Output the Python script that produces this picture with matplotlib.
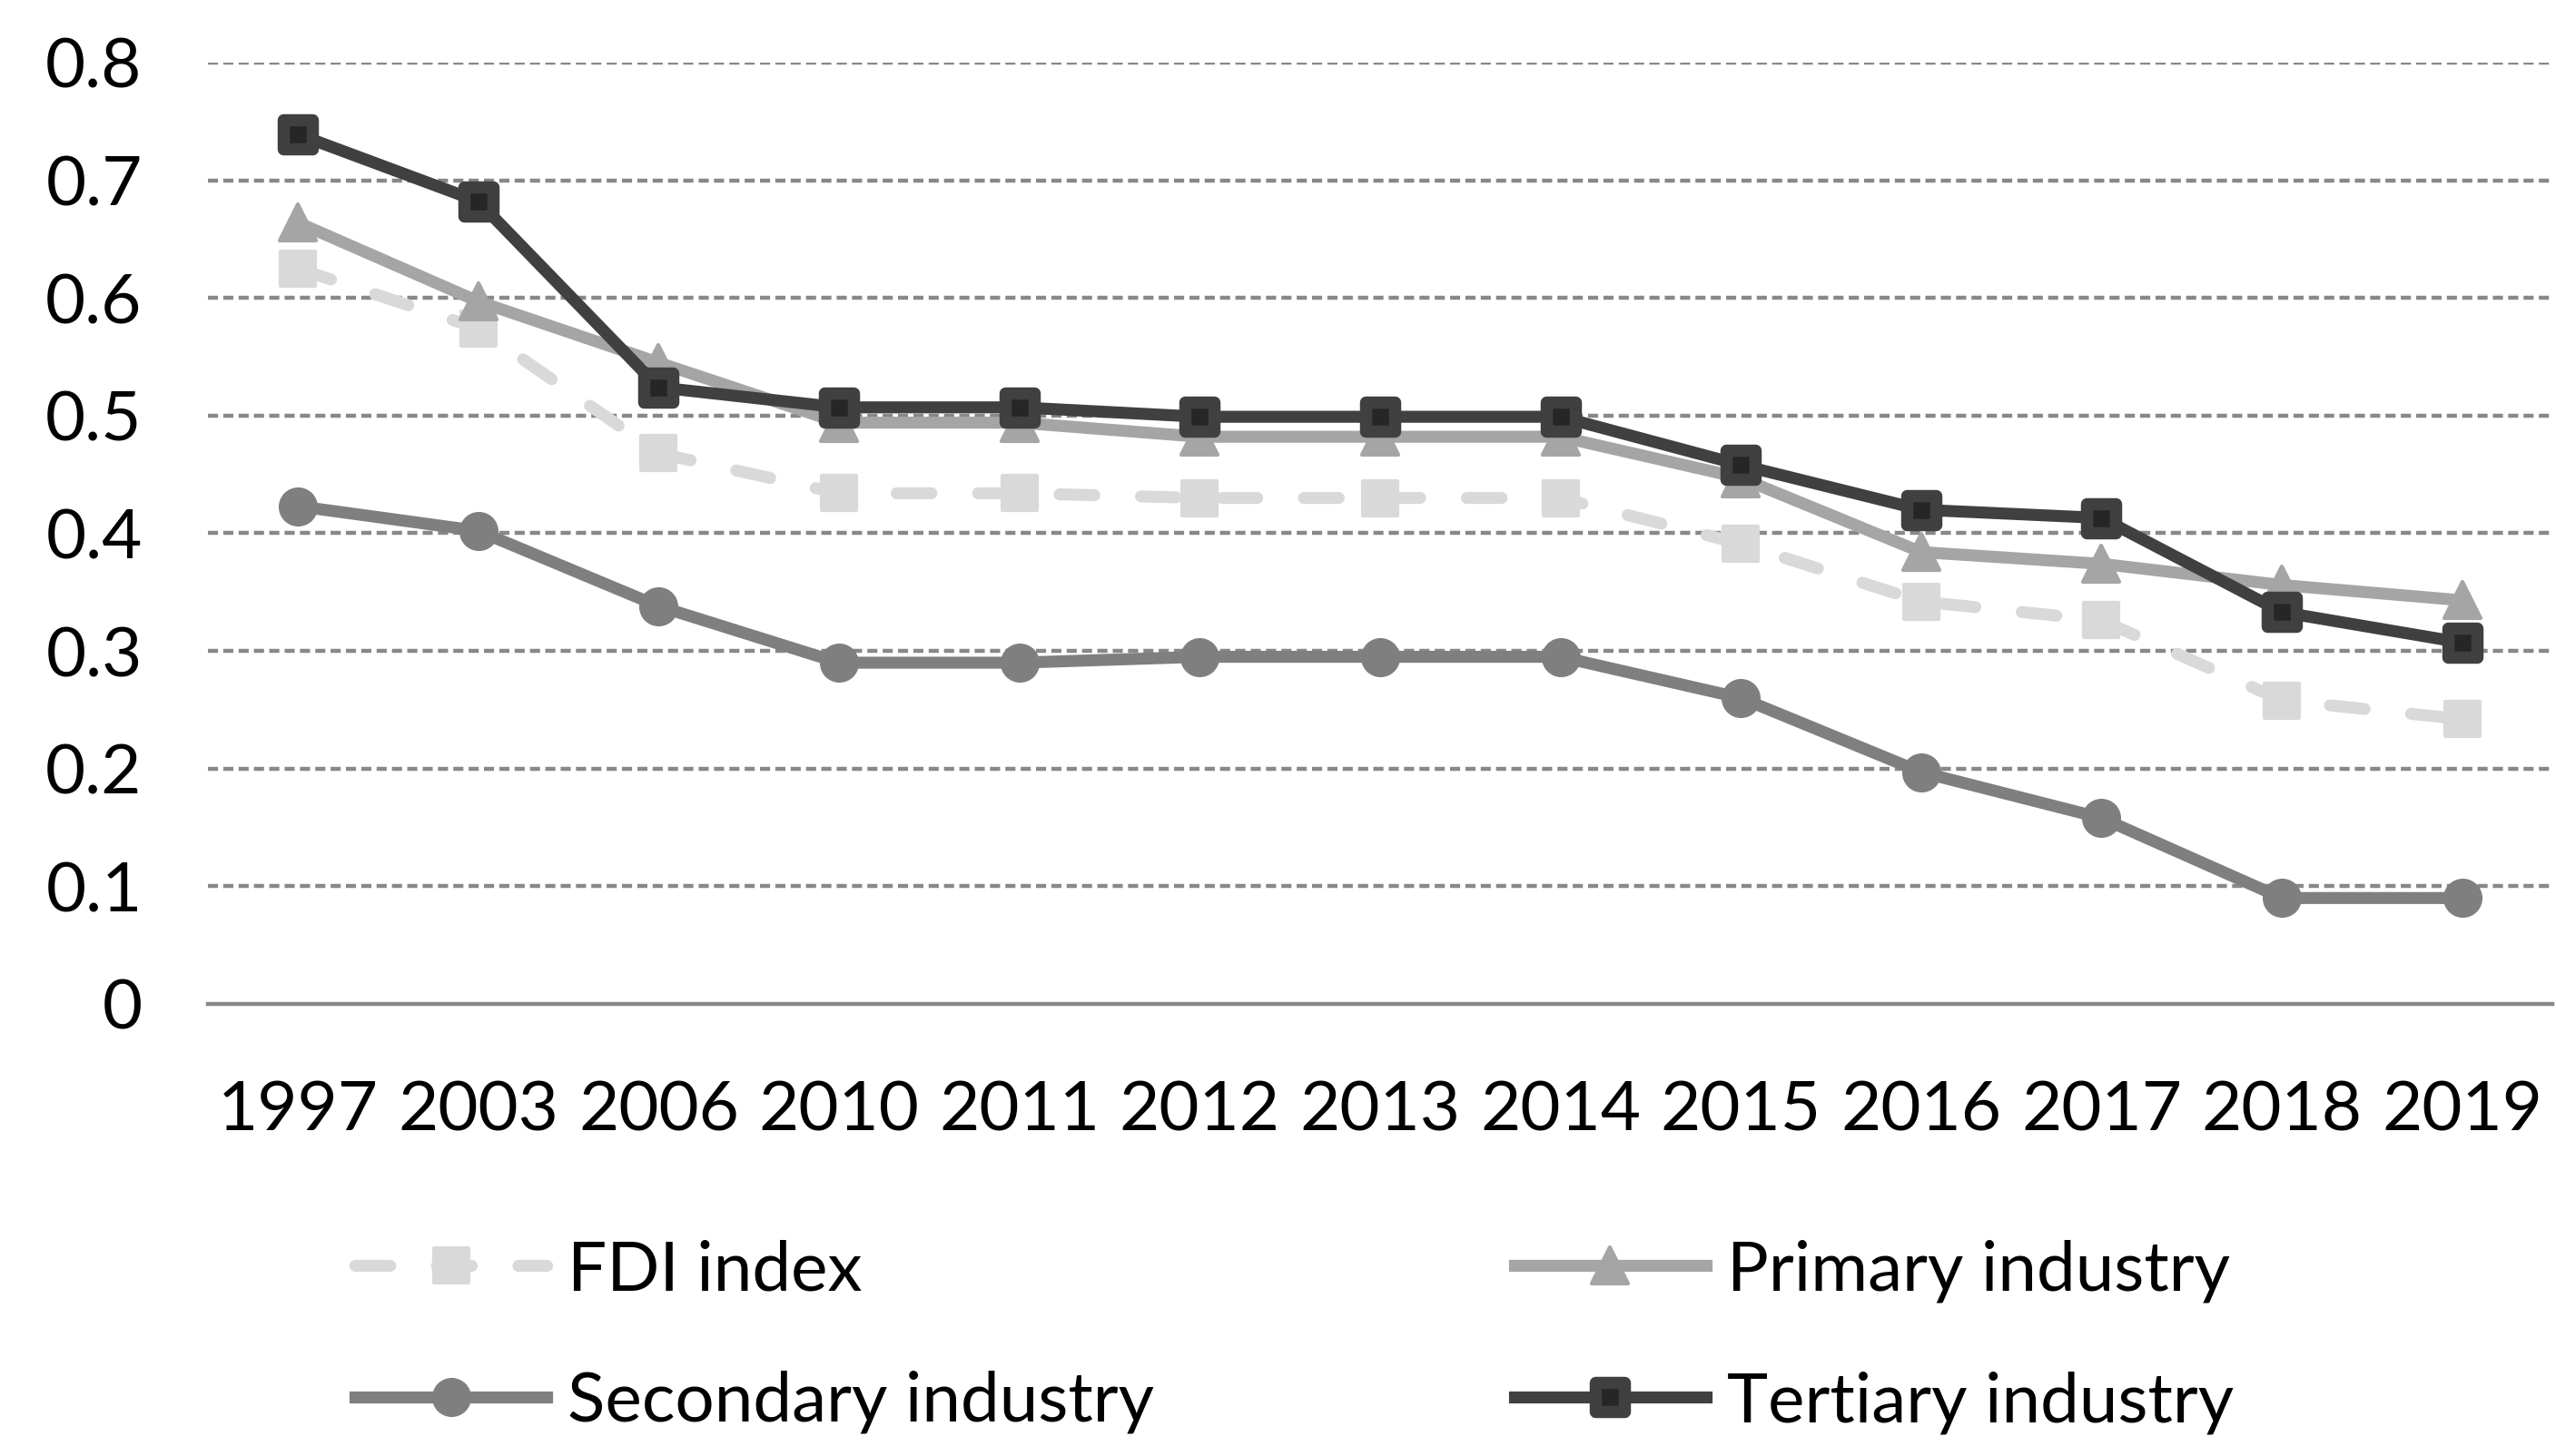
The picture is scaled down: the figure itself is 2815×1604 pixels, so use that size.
import numpy as np
import matplotlib.pyplot as plt
from matplotlib.markers import MarkerStyle

# data
years = ['1997', '2003', '2006', '2010', '2011', '2012', '2013',
         '2014', '2015', '2016', '2017', '2018', '2019']
fdi = [0.625, 0.574, 0.468, 0.434, 0.434, 0.430, 0.430,
       0.430, 0.391, 0.342, 0.326, 0.258, 0.242]
primary = [0.664, 0.597, 0.545, 0.494, 0.494, 0.482, 0.482,
           0.482, 0.447, 0.384, 0.374, 0.356, 0.343]
secondary = [0.423, 0.402, 0.338, 0.290, 0.290, 0.295, 0.295,
             0.295, 0.260, 0.197, 0.158, 0.090, 0.090]
tertiary = [0.739, 0.682, 0.524, 0.507, 0.507, 0.499, 0.499,
            0.499, 0.458, 0.420, 0.413, 0.333, 0.307]
y_ticks = [0, 0.1, 0.2, 0.3, 0.4, 0.5, 0.6, 0.7, 0.8]
y_labels = ['0', '0.1', '0.2', '0.3', '0.4', '0.5', '0.6', '0.7', '0.8']

plt.rcParams['font.family'] = ['Lato', 'DejaVu Sans']

fig = plt.figure(figsize=(28.15, 16.04), dpi=100)
ax = fig.add_axes([0.0813, 0.3105, 0.9173, 0.6465])

x = np.arange(len(years))
lw = 9.5
sq = MarkerStyle('s', joinstyle='round')
tri = MarkerStyle('^', joinstyle='round')

l_fdi, = ax.plot(x, fdi, color='#d9d9d9', lw=lw, ls=(0, (2.9, 3.9)),
                 dash_capstyle='round', marker=sq, ms=28,
                 mfc='#d9d9d9', mec='#d9d9d9', mew=3, zorder=3)
l_pri, = ax.plot(x, primary, color='#a5a5a5', lw=lw, marker=tri, ms=29,
                 mfc='#a5a5a5', mec='#a5a5a5', mew=3,
                 solid_joinstyle='round', zorder=4)
l_sec, = ax.plot(x, secondary, color='#7f7f7f', lw=lw, marker='o', ms=30,
                 mfc='#7f7f7f', mec='#7f7f7f', mew=1,
                 solid_joinstyle='round', zorder=4)
l_ter, = ax.plot(x, tertiary, color='#404040', lw=lw, marker=sq, ms=22.7,
                 mfc='#262626', mec='#404040', mew=9.7,
                 solid_joinstyle='round', zorder=5)

ax.set_xlim(-0.5, len(years) - 0.5)
ax.set_ylim(0, 0.8)
ax.set_xticks(x)
ax.set_xticklabels(years)
ax.set_yticks(y_ticks)
ax.set_yticklabels(y_labels)
ax.tick_params(axis='both', length=0, labelsize=55, colors='black')
ax.tick_params(axis='y', pad=52)
ax.tick_params(axis='x', pad=60)

# dashed grid, solid baseline
for v in y_ticks[1:]:
    ax.axhline(v, color='#888888', lw=3.2, ls=(0, (2.5, 1.3)), zorder=1)
ax.axhline(0, color='#888888', lw=3.2, zorder=1, clip_on=False)

for s in ax.spines.values():
    s.set_visible(False)

handles = [l_fdi, l_sec, l_pri, l_ter]
labels = ['FDI index', 'Secondary industry', 'Primary industry', 'Tertiary industry']
fig.legend(handles, labels, ncol=2, loc='upper left',
           bbox_to_anchor=(0.1388, 0.149), frameon=False, fontsize=55,
           handlelength=2.77, handletextpad=0.3, columnspacing=5.19,
           labelspacing=0.99, borderaxespad=0, borderpad=0)

fig.savefig('out.png', dpi=100)
